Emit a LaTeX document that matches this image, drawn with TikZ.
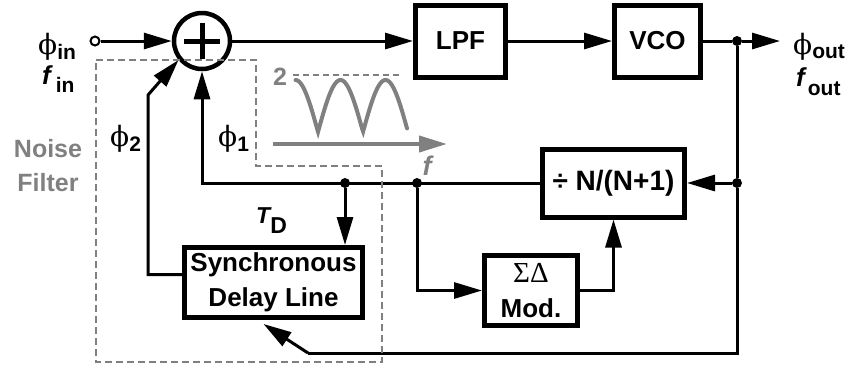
\documentclass[tikz,border=0pt]{standalone}
\usepackage{fontspec}
\setmainfont{Liberation Sans}
\newfontfamily\greekfont{DejaVu Serif}
\newfontfamily\sigmafont{Liberation Serif}
\usetikzlibrary{positioning,arrows.meta,calc}
\definecolor{FilterGray}{RGB}{128,128,128}
\tikzset{
  flow/.style={-{Triangle[length=28pt,width=16pt]},line width=3pt},
  grayflow/.style={-{Triangle[length=28pt,width=16pt]},line width=4pt,draw=FilterGray},
  wire/.style={line width=3pt},
  blk/.style={draw,line width=5pt,inner sep=0pt,align=center,
    font=\bfseries\fontsize{26}{35}\selectfont},
  dot/.style={circle,fill,inner sep=0pt,minimum size=10pt},
  lbl/.style={inner sep=0pt,font=\bfseries\fontsize{25}{28}\selectfont},
  graylbl/.style={inner sep=0pt,text=FilterGray,align=center,
    font=\bfseries\fontsize{25}{34}\selectfont}
}
\newcommand{\lowsub}[2]{\raisebox{#1}{\fontsize{21}{21}\selectfont #2}}
\newcommand{\phisym}{{\greekfont\mdseries\fontsize{28}{28}\selectfont ϕ}}

\begin{document}
\begin{tikzpicture}[x=1pt,y=-1pt]
  \useasboundingbox (0,0) rectangle (848,368);
  % forward path
  \node[draw,circle,line width=2pt,inner sep=0pt,minimum size=9pt] (in) at (95,41) {};
  \node[draw,circle,line width=4.5pt,inner sep=0pt,minimum size=56pt] (sum) at (202,41) {};
  \draw[line width=5pt] ([xshift=-18pt]sum.center) -- ([xshift=18pt]sum.center);
  \draw[line width=5pt] ([yshift=-18pt]sum.center) -- ([yshift=18pt]sum.center);
  \node[blk,minimum width=90pt,minimum height=72pt] (lpf) at (460.5,41) {LPF};
  \node[blk,minimum width=86pt,minimum height=72pt] (vco) at (657.5,41) {VCO};
  \node[dot] (d1) at (737,41) {};
  \coordinate (out) at (780,41);
  \draw[flow] (in) -- (sum);
  \draw[flow] (sum) -- (lpf);
  \draw[flow] (lpf) -- (vco);
  \draw[wire] (vco) -- (d1);
  \draw[flow] (d1) -- (out);
  % divider and modulator
  \node[blk,minimum width=142pt,minimum height=68pt] (div) at (613.5,183) {\fontsize{28}{30}\selectfont ÷ N/(N+1)};
  \node[blk,minimum width=93pt,minimum height=70pt] (sdm) at (531,290.5) {{\sigmafont\mdseries\fontsize{29}{30}\selectfont ΣΔ}\\Mod.};
  \node[dot] (d2) at (737,183) {};
  \node[dot] (d3) at (345,183) {};
  \node[dot] (d4) at (417,183) {};
  \draw[wire] (d1) -- (d2);
  \draw[flow] (d2) -- (div);
  \draw[flow] (div.west) -- (sum.south |- div.west) -- (sum.south);
  \draw[flow] (d4) |- (sdm.west);
  \draw[flow] (sdm.east) -| (div.south);
  % noise filter
  \node[blk,minimum width=178pt,minimum height=70pt] (sdl) at (273.5,282.5) {Synchronous\\Delay Line};
  \coordinate (k2) at (148,95);
  \coordinate (k4) at (737,353);
  \coordinate (k5) at (308,353);
  \draw[flow] (d3) -- (d3 |- sdl.north);
  \draw[flow] ([yshift=8pt]sdl.west) -| (k2) -- (sum.219);
  \draw[wire] (d2) -- (k4) -- (k5);
  \draw[flow] (k5) -- ($(sdl.south)+(-10,4)$);
  \draw[FilterGray,line width=2.5pt,dash pattern=on 7pt off 4pt]
    (96,60) -- (256,60) -- (256,166) -- (382,166) -- (382,362) -- (96,362) -- cycle;
  % filter response
  \draw[FilterGray,line width=2pt,dash pattern=on 6pt off 4pt] (293,75) -- (400,75);
  \draw[FilterGray,line width=4pt,line cap=round]
    plot[domain=295.5:407,samples=90] (\x,{132-52*abs(cos(4*(\x-340.5)))});
  \coordinate (fa) at (273,144);
  \coordinate (fb) at (447,144);
  \draw[grayflow] (fa) -- (fb);
  % labels
  \node[graylbl] (two) at (280,77) {2};
  \node[graylbl,font=\bfseries\itshape\fontsize{27}{30}\selectfont] (freq) at (427,166) {f};
  \node[graylbl] (nf) at (48,166) {Noise\\Filter};
  \node[lbl,anchor=base west] (phiin) at (38,54) {\phisym\lowsub{-5pt}{in}};
  \node[lbl,anchor=base west,font=\bfseries\fontsize{26}{28}\selectfont] (fin) at (42,84) {\itshape f\hspace{5pt}\upshape\lowsub{-8pt}{in}};
  \node[lbl,anchor=base west] (phiout) at (793,54) {\phisym\lowsub{-4pt}{out}};
  \node[lbl,anchor=base west,font=\bfseries\fontsize{26}{28}\selectfont] (fout) at (796,86) {\itshape f\hspace{3pt}\upshape\lowsub{-9pt}{out}};
  \node[lbl,anchor=base west] (phi1) at (218,146) {\phisym\lowsub{-5pt}{1}};
  \node[lbl,anchor=base west] (phi2) at (110,146) {\phisym\lowsub{-5pt}{2}};
  \node[lbl,anchor=base west,font=\bfseries\fontsize{23}{24}\selectfont] (td) at (256,223) {\itshape T\upshape\raisebox{-10pt}{D}};
\end{tikzpicture}
\end{document}
